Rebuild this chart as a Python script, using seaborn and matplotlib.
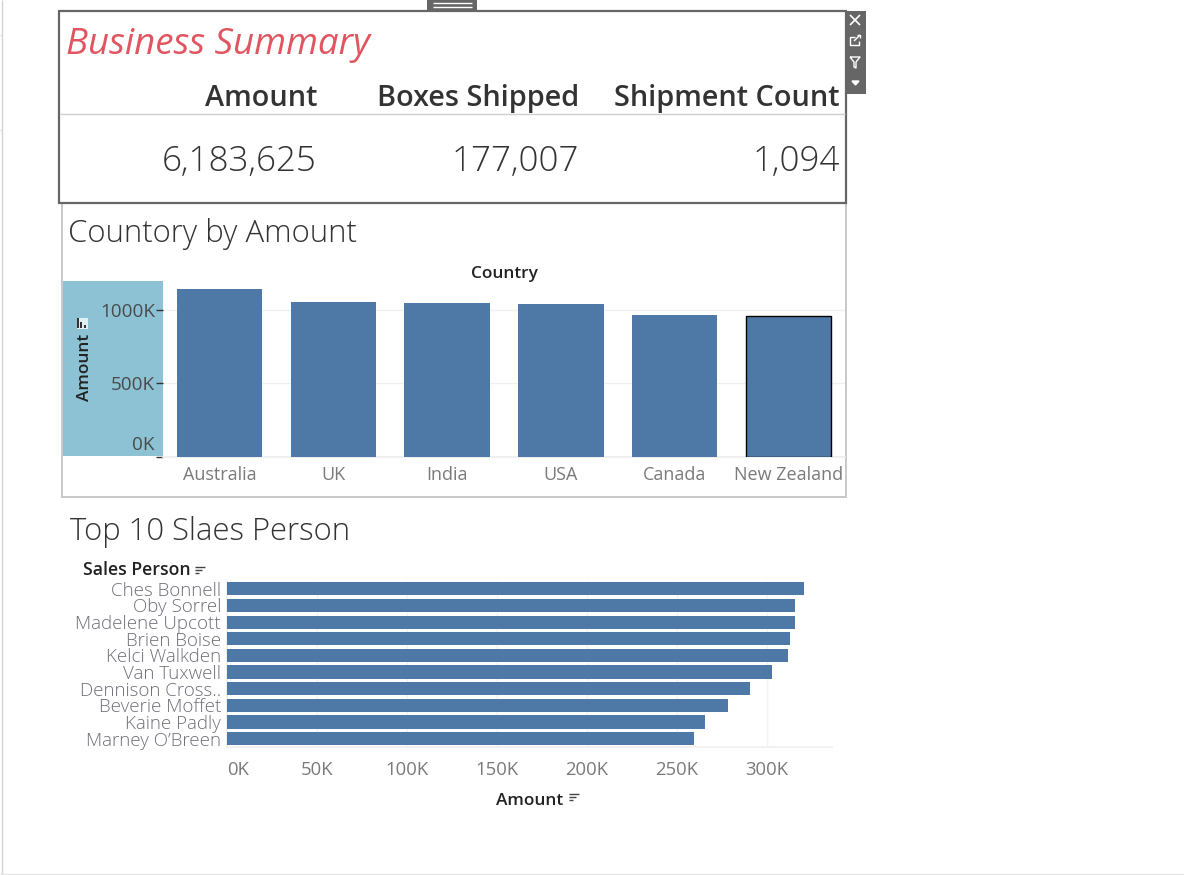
import pandas as pd
import matplotlib
matplotlib.use('Agg')
import matplotlib.pyplot as plt
from matplotlib.patches import Rectangle
from matplotlib.ticker import FuncFormatter
from matplotlib.transforms import ScaledTranslation
import seaborn as sns

# values
kpi_names = ['Amount', 'Boxes Shipped', 'Shipment Count']
kpi_values = ['6,183,625', '177,007', '1,094']

countries = ['Australia', 'UK', 'India', 'USA', 'Canada', 'New Zealand']
country_amount = [1140000, 1051000, 1044000, 1037000, 962000, 955000]

people = ['Ches Bonnell', 'Oby Sorrel', 'Madelene Upcott', 'Brien Boise', 'Kelci Walkden',
          'Van Tuxwell', 'Dennison Cross..', 'Beverie Moffet', 'Kaine Padly', "Marney O’Breen"]
people_amount = [320500, 316000, 315500, 312800, 311700, 302800, 291000, 278300, 266000, 259500]

BLUE = '#4e79a7'
W, H = 1184, 875

sns.set_theme(style='white')
plt.rcParams['font.family'] = ['Open Sans', 'DejaVu Sans']

fig = plt.figure(figsize=(W / 100, H / 100), dpi=100)


def px_axes(left, top, right, bottom):
    return fig.add_axes([left / W, 1 - bottom / H, (right - left) / W, (bottom - top) / H])


# whole-figure layer in pixel coordinates for frames and text
bg = fig.add_axes([0, 0, 1, 1], zorder=0)
bg.set_xlim(0, W)
bg.set_ylim(H, 0)
bg.axis('off')


def box(x0, y0, x1, y1, **kw):
    bg.add_patch(Rectangle((x0, y0), x1 - x0, y1 - y0, **kw))


def seg(xs, ys, color='#ffffff', lw=1.0):
    bg.plot(xs, ys, color=color, lw=lw, solid_capstyle='butt')


# page edges
seg([1.5, 1.5], [0, 875], '#d4d4d4', 1)
seg([0, 1184], [874, 874], '#e6e6e6', 1)
seg([0, 1], [35, 35], '#d4d4d4', 1)
seg([0, 1], [130, 130], '#d4d4d4', 1)

# second card goes under the summary card
box(62, 203, 846, 497, fc='white', ec='#c8c8c8', lw=1.4)

# summary card
box(59, 11, 846, 203, fc='white', ec='#666666', lw=1.6)
bg.text(66, 45, 'Business Summary', color='#e0555f', fontsize=26.4, style='italic', va='center')
seg([60, 845], [114, 114], '#cfcfcf', 1)
for right, name, val in zip([317, 579, 840], kpi_names, kpi_values):
    bg.text(right, 98.5, name, ha='right', va='center', fontsize=20.8, weight='semibold', color='#333333')
    bg.text(right, 162, val, ha='right', va='center', fontsize=25.2, weight='light', color='#333333')

# grab handle and toolbar of the selected card
box(427, 0, 477, 11, fc='#666666', ec='none')
seg([433, 472], [2.5, 2.5])
seg([433, 472], [6.5, 6.5])
box(846, 11, 866, 94, fc='#666666', ec='none')
seg([850, 860], [15, 25], lw=1.2)
seg([850, 860], [25, 15], lw=1.2)
seg([855, 850, 850, 859, 859], [37, 37, 45, 45, 41], lw=1)
seg([854, 860], [41, 35], lw=1)
seg([857, 860, 860], [35, 35, 38], lw=1)
seg([850, 860, 856, 856, 854, 854, 850], [57, 57, 62, 68, 67, 62, 57], lw=1)
bg.fill([852, 859, 855.5], [81, 81, 85], color='white')

bg.text(67.5, 233.5, 'Countory by Amount', fontsize=22.4, weight='light', va='center', color='#333333')
bg.text(504, 273.5, 'Country', fontsize=12.4, weight='semibold', ha='center', va='center', color='#222222')
box(63, 281, 163, 456, fc='#8cc2d4', ec='none')
bg.text(85, 367, 'Amount', fontsize=12.4, weight='semibold', rotation=90, ha='center', va='center', color='#222222')
# sort icon on the highlighted axis
box(76.5, 317.5, 87.5, 328.5, fc='#dff0f5', ec='none')
for x0, top in [(77, 318), (80, 322), (84, 325)]:
    box(x0, top, x0 + 2, 328, fc='#333333', ec='none')

df_country = pd.DataFrame({'Country': countries, 'Amount': country_amount})
ax1 = px_axes(162.6, 281, 845.4, 456.5)
ax1.set_zorder(2)
ax1.patch.set_alpha(0)
sns.barplot(data=df_country, x='Country', y='Amount', color=BLUE, saturation=1, width=0.75,
            linewidth=0, ax=ax1, zorder=3)
ax1.patches[5].set_edgecolor('black')
ax1.patches[5].set_linewidth(1)
ax1.set_ylim(0, 1194000)
ax1.set_xlim(-0.5, 5.5)
ax1.set_yticks([0, 500000, 1000000])
ax1.yaxis.set_major_formatter(FuncFormatter(lambda v, p: f'{v / 1000:.0f}K'))
ax1.grid(axis='y', color='#f0f0f0', lw=1)
ax1.set_axisbelow(True)
ax1.set_xlabel('')
ax1.set_ylabel('')
ax1.tick_params(axis='y', length=5, width=1, color='#333333', labelsize=13.6, labelcolor='#4a4a4a', pad=0.5, left=True)
ax1.tick_params(axis='x', length=0, labelsize=13, labelcolor='#7a7a7a', pad=6.5)
zero_label = ax1.get_yticklabels()[0]
zero_label.set_verticalalignment('bottom')
zero_label.set_transform(zero_label.get_transform() + ScaledTranslation(0, 2 / 72, fig.dpi_scale_trans))
for s in ['top', 'right', 'left']:
    ax1.spines[s].set_visible(False)
ax1.spines['bottom'].set_color('#eeeeee')

# third sheet
bg.text(70, 532.5, 'Top 10 Slaes Person', fontsize=22.3, weight='light', va='center', color='#333333')
bg.text(83, 570, 'Sales Person', fontsize=12.7, weight='semibold', va='center', color='#222222')
bg.text(496, 801, 'Amount', fontsize=12.4, weight='semibold', va='center', color='#222222')
for x0 in [195, 569]:
    y0 = 567 if x0 == 195 else 794
    for i, length in enumerate([10, 7, 4]):
        seg([x0, x0 + length], [y0 + i * 3, y0 + i * 3], '#444444', 1)

df_people = pd.DataFrame({'Sales Person': people, 'Amount': people_amount})
ax2 = px_axes(226.7, 580.5, 832, 747)
ax2.set_zorder(2)
ax2.patch.set_alpha(0)
sns.barplot(data=df_people, y='Sales Person', x='Amount', color=BLUE, saturation=1, width=0.79,
            linewidth=0, ax=ax2, zorder=3)
ax2.set_xlim(0, 336300)
ax2.set_ylim(9.5, -0.5)
ax2.set_xticks(range(0, 300001, 50000))
ax2.xaxis.set_major_formatter(FuncFormatter(lambda v, p: f'{v / 1000:.0f}K'))
ax2.grid(axis='x', color='#f2f2f2', lw=1)
ax2.set_axisbelow(True)
ax2.set_xlabel('')
ax2.set_ylabel('')
ax2.tick_params(axis='y', length=0, labelsize=13.5, labelcolor='#6f6f7a', pad=4)
ax2.tick_params(axis='x', length=0, labelsize=13.3, labelcolor='#7a7a7a', pad=10)
ax2.get_xticklabels()[0].set_horizontalalignment('left')
for label in ax2.get_yticklabels():
    label.set_fontweight('light')
for s in ['top', 'right']:
    ax2.spines[s].set_visible(False)
ax2.spines['bottom'].set_color('#f0f0f0')
ax2.spines['left'].set_color('#f0f0f0')

fig.savefig('out.png', dpi=100, facecolor='white')
